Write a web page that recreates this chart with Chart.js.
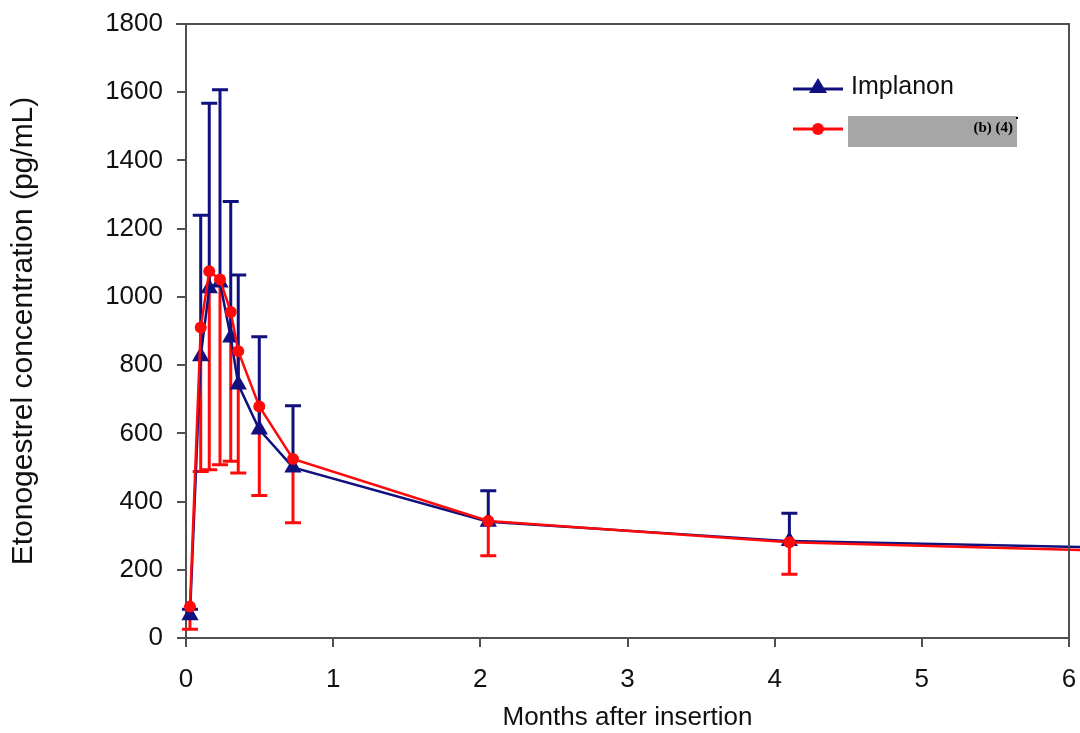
<!DOCTYPE html>
<html>
<head>
<meta charset="utf-8">
<script src="https://cdn.jsdelivr.net/npm/chart.js@4.4.1/dist/chart.umd.min.js"></script>
<style>
  html, body { margin: 0; padding: 0; background: #ffffff; }
  #wrap { position: relative; width: 1080px; height: 733px; }
</style>
</head>
<body>
<div id="wrap"><canvas id="c"></canvas></div>
<script>
// ---- data ----
const months          = [0.027, 0.10, 0.158, 0.231, 0.304, 0.355, 0.498, 0.727, 2.054, 4.10, 6.6];
const implanonMean    = [67, 826, 1025, 1042, 881, 743, 611, 500, 341, 284, 262];
const implanonUpper   = [84, 1239, 1568, 1607, 1280, 1064, 883, 681, 432, 366, null];
const redactedMean    = [92, 910, 1075, 1051, 956, 841, 679, 525, 343, 281, 252];
const redactedLower   = [26, 488, 493, 508, 518, 484, 418, 338, 241, 187, null];
const xTickValues     = [0, 1, 2, 3, 4, 5, 6];
const yTickValues     = [0, 200, 400, 600, 800, 1000, 1200, 1400, 1600, 1800];
const seriesNames     = ['Implanon', ''];
const redactionNote   = '(b) (4)';
const xTitle          = 'Months after insertion';
const yTitle          = 'Etonogestrel concentration (pg/mL)';

const BLUE = '#10107f';
const RED  = '#ff0a0a';
const AXIS = '#505050';
const FONT = "'Liberation Sans', Arial, Helvetica, sans-serif";

const errorBars = {
  id: 'errorBars',
  beforeDatasetsDraw(chart) {
    const { ctx, scales: { x, y } } = chart;
    ctx.save();
    ctx.lineWidth = 3;
    const cap = 8;
    const draw = (from, to, color) => {
      ctx.strokeStyle = color;
      months.forEach((m, i) => {
        if (to[i] == null || m > 6) return;
        const px = x.getPixelForValue(m);
        const y0 = y.getPixelForValue(from[i]);
        const y1 = y.getPixelForValue(to[i]);
        ctx.beginPath();
        ctx.moveTo(px, y0); ctx.lineTo(px, y1);
        ctx.moveTo(px - cap, y1); ctx.lineTo(px + cap, y1);
        ctx.stroke();
      });
    };
    draw(redactedMean, redactedLower, RED);
    draw(implanonMean, implanonUpper, BLUE);
    ctx.restore();
  }
};

const frame = {
  id: 'frame',
  afterDraw(chart) {
    const { ctx, chartArea: a } = chart;
    ctx.save();
    ctx.strokeStyle = AXIS;
    ctx.lineWidth = 2;
    ctx.beginPath();
    ctx.moveTo(a.left - 10, a.top);
    ctx.lineTo(a.right, a.top);
    ctx.lineTo(a.right, a.bottom + 8);
    ctx.stroke();
    ctx.restore();
  }
};

const customLegend = {
  id: 'customLegend',
  afterDraw(chart) {
    const { ctx } = chart;
    ctx.save();
    // Implanon
    ctx.strokeStyle = BLUE; ctx.lineWidth = 3;
    ctx.beginPath(); ctx.moveTo(793, 89); ctx.lineTo(843, 89); ctx.stroke();
    ctx.fillStyle = BLUE;
    ctx.beginPath();
    ctx.moveTo(818, 78); ctx.lineTo(827, 93); ctx.lineTo(809, 93); ctx.closePath(); ctx.fill();
    ctx.fillStyle = '#111';
    ctx.font = '25px ' + FONT;
    ctx.textBaseline = 'middle';
    ctx.textAlign = 'left';
    ctx.fillText(seriesNames[0], 851, 87);
    // redacted series
    ctx.strokeStyle = RED; ctx.lineWidth = 3;
    ctx.beginPath(); ctx.moveTo(793, 129); ctx.lineTo(843, 129); ctx.stroke();
    ctx.fillStyle = RED;
    ctx.beginPath(); ctx.arc(818, 129, 6, 0, Math.PI * 2); ctx.fill();
    ctx.fillStyle = '#a6a6a6';
    ctx.fillRect(848, 116, 169, 31);
    ctx.fillStyle = '#000';
    ctx.font = 'bold 15px "Liberation Serif", "Times New Roman", serif';
    ctx.textAlign = 'right';
    ctx.fillText(redactionNote, 1013, 128);
    ctx.fillRect(1016, 117, 2, 2);
    ctx.restore();
  }
};

const data = {
  datasets: [
    {
      label: seriesNames[0],
      data: months.map((m, i) => ({ x: m, y: implanonMean[i] })),
      borderColor: BLUE,
      backgroundColor: BLUE,
      borderWidth: 2.5,
      pointStyle: 'triangle',
      pointRadius: 10,
      pointBorderWidth: 0,
      tension: 0,
      order: 2,
      clip: { left: 10, top: 10, right: 20, bottom: 10 }
    },
    {
      label: seriesNames[1],
      data: months.map((m, i) => ({ x: m, y: redactedMean[i] })),
      borderColor: RED,
      backgroundColor: RED,
      borderWidth: 2.5,
      pointStyle: 'circle',
      pointRadius: 6,
      pointBorderWidth: 0,
      tension: 0,
      order: 1,
      clip: { left: 10, top: 10, right: 20, bottom: 10 }
    }
  ]
};

new Chart(document.getElementById('c'), {
  type: 'line',
  data,
  plugins: [errorBars, frame, customLegend],
  options: {
    responsive: true,
    maintainAspectRatio: false,
    animation: false,
    layout: { padding: { top: 24, right: 11, left: 0, bottom: 0 } },
    plugins: { legend: { display: false }, tooltip: { enabled: false } },
    scales: {
      x: {
        type: 'linear',
        min: 0, max: 6,
        afterBuildTicks(s) { s.ticks = xTickValues.map(v => ({ value: v })); },
        afterFit(s) { s.height = 95; s.paddingLeft = 0; s.paddingRight = 0; },
        grid: { drawOnChartArea: false, tickLength: 9, color: AXIS, lineWidth: 2 },
        border: { color: AXIS, width: 2 },
        ticks: { font: { family: FONT, size: 26 }, color: '#111', padding: 17, maxRotation: 0,
                 callback: v => String(v) },
        title: { display: true, text: xTitle, font: { family: FONT, size: 26 }, color: '#111', padding: { top: 0, bottom: 0 } }
      },
      y: {
        type: 'linear',
        min: 0, max: 1800,
        afterBuildTicks(s) { s.ticks = yTickValues.map(v => ({ value: v })); },
        afterFit(s) { s.width = 186; s.paddingTop = 0; s.paddingBottom = 0; },
        grid: { drawOnChartArea: false, tickLength: 9, color: AXIS, lineWidth: 2 },
        border: { color: AXIS, width: 2 },
        ticks: { font: { family: FONT, size: 26 }, color: '#111', padding: 14,
                 callback: v => String(v) },
        title: { display: true, text: yTitle, font: { family: FONT, size: 30 }, color: '#111', padding: { top: 6, bottom: 0 } }
      }
    }
  }
});
</script>
</body>
</html>
